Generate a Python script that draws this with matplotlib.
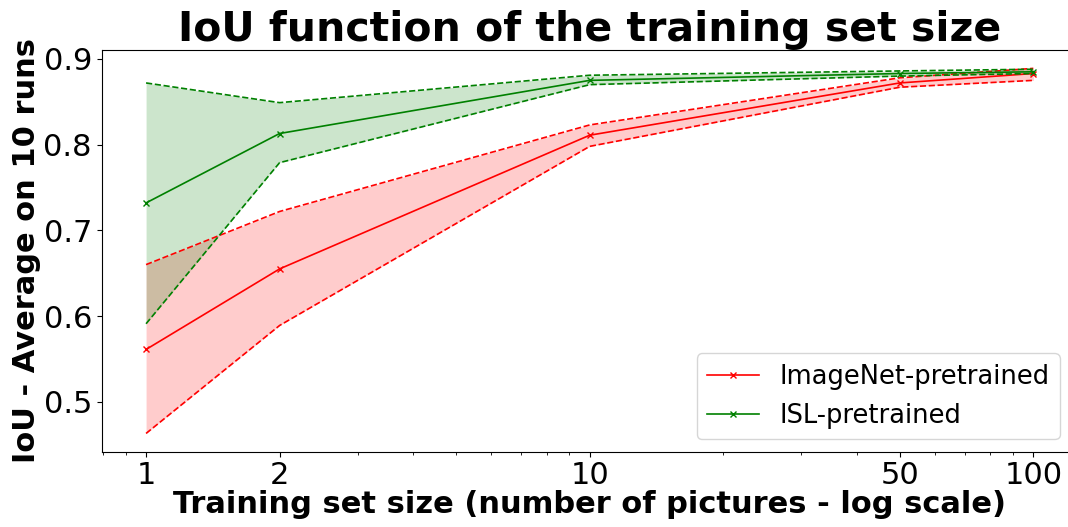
import numpy as np
import matplotlib
matplotlib.use("Agg")
import matplotlib.pyplot as plt

# Training set sizes (number of pictures)
sizes = [1, 2, 10, 50, 100]

# ImageNet-pretrained: mean IoU and band bounds over 10 runs
imagenet_mean = [0.561, 0.655, 0.811, 0.872, 0.883]
imagenet_upper = [0.660, 0.722, 0.823, 0.878, 0.889]
imagenet_lower = [0.463, 0.589, 0.798, 0.867, 0.875]

# ISL-pretrained: mean IoU and band bounds over 10 runs
isl_mean = [0.732, 0.813, 0.875, 0.883, 0.885]
isl_upper = [0.872, 0.849, 0.881, 0.886, 0.888]
isl_lower = [0.591, 0.779, 0.870, 0.880, 0.883]

tick_labels = ["1", "2", "10", "50", "100"]

fig = plt.figure(figsize=(10.68, 5.27), dpi=100)
ax = fig.add_axes([101.7 / 1068, 0.1429, 976 / 1068, 0.762])

for mean, upper, lower, color, label in [
    (imagenet_mean, imagenet_upper, imagenet_lower, "red", "ImageNet-pretrained"),
    (isl_mean, isl_upper, isl_lower, "green", "ISL-pretrained"),
]:
    ax.plot(sizes, mean, color=color, marker="x", ms=5, lw=1.2, label=label)
    ax.plot(sizes, upper, color=color, ls="--", lw=1.2)
    ax.plot(sizes, lower, color=color, ls="--", lw=1.2)
    ax.fill_between(sizes, lower, upper, color=color, alpha=0.2, lw=0)

ax.set_xscale("log")
ax.set_xticks(sizes)
ax.set_xticklabels(tick_labels)
ax.tick_params(axis="both", which="major", labelsize=22)

ax.set_title("IoU function of the training set size", fontsize=29.5, fontweight="bold", pad=3)
ax.set_xlabel("Training set size (number of pictures - log scale)", fontsize=22, fontweight="bold", labelpad=0)
ax.set_ylabel("IoU - Average on 10 runs", fontsize=22, fontweight="bold", labelpad=2)

ax.legend(loc="lower right", fontsize=18.5, bbox_to_anchor=(0.9946, 0.0))

fig.savefig("out.png", dpi=100)
